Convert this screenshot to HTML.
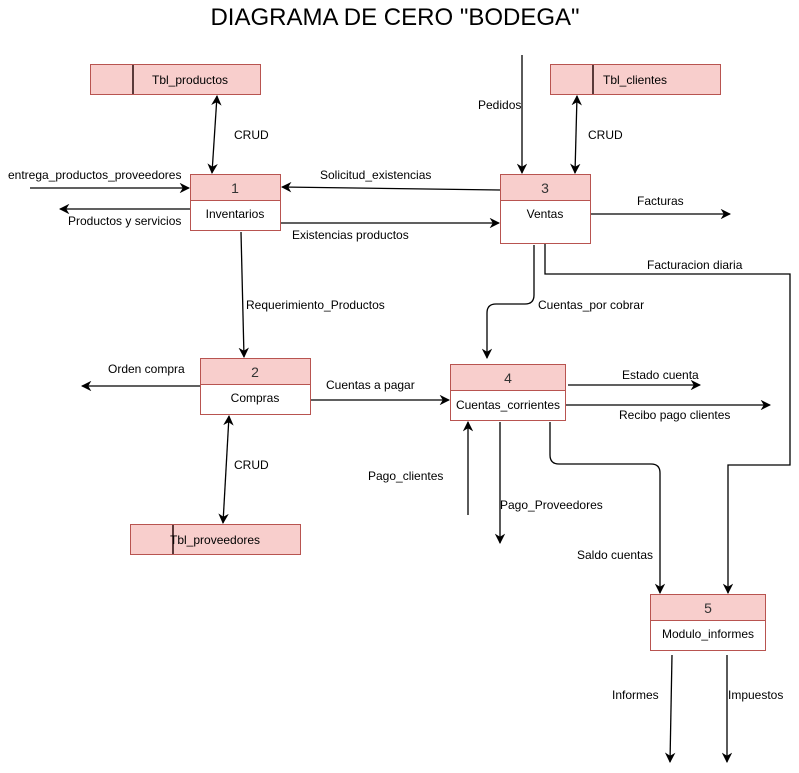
<!DOCTYPE html>
<html><head><meta charset="utf-8"><style>body{margin:0;background:#fff}svg{display:block;font-family:"Liberation Sans",sans-serif}</style></head>
<body>
<svg width="799" height="773" viewBox="0 0 799 773" xmlns="http://www.w3.org/2000/svg">
<defs><marker id="a" viewBox="0 0 10 10" refX="9" refY="5" markerWidth="8" markerHeight="8" orient="auto-start-reverse"><path d="M0,0 L10,5 L0,10 L3,5 z" fill="#000"/></marker></defs>
<text x="395" y="25" font-size="24" text-anchor="middle" fill="#000">DIAGRAMA DE CERO "BODEGA"</text>
<g fill="#f8cecc" stroke="#b85450" stroke-width="1">
<rect x="90.5" y="64.5" width="170" height="30"/><rect x="550.5" y="64.5" width="170" height="30"/><rect x="130.5" y="524.5" width="170" height="30"/>
</g>
<g stroke="#5a3a3a" stroke-width="2"><line x1="133" y1="65" x2="133" y2="94"/><line x1="593" y1="65" x2="593" y2="94"/><line x1="173" y1="525" x2="173" y2="554"/></g>
<g font-size="12" fill="#000">
<text x="152" y="84">Tbl_productos</text><text x="603" y="84">Tbl_clientes</text><text x="170" y="544">Tbl_proveedores</text>
</g>
<g stroke="#b85450" stroke-width="1">
<rect x="190.5" y="174.5" width="90" height="56" fill="#fff"/><rect x="190.5" y="174.5" width="90" height="26" fill="#f8cecc"/>
<rect x="500.5" y="174.5" width="90" height="69" fill="#fff"/><rect x="500.5" y="174.5" width="90" height="26" fill="#f8cecc"/>
<rect x="200.5" y="358.5" width="110" height="56" fill="#fff"/><rect x="200.5" y="358.5" width="110" height="26" fill="#f8cecc"/>
<rect x="450.5" y="364.5" width="115" height="56" fill="#fff"/><rect x="450.5" y="364.5" width="115" height="26" fill="#f8cecc"/>
<rect x="650.5" y="594.5" width="115" height="56" fill="#fff"/><rect x="650.5" y="594.5" width="115" height="26" fill="#f8cecc"/>
</g>
<g font-size="14" fill="#333" text-anchor="middle">
<text x="235" y="193">1</text><text x="545" y="193">3</text><text x="255" y="377">2</text><text x="508" y="383">4</text><text x="708" y="613">5</text>
</g>
<g font-size="12" fill="#000" text-anchor="middle">
<text x="235" y="218">Inventarios</text><text x="545" y="218">Ventas</text><text x="255" y="402">Compras</text><text x="508" y="409">Cuentas_corrientes</text><text x="708" y="638">Modulo_informes</text>
</g>
<g stroke="#000" stroke-width="1.3" fill="none" marker-end="url(#a)">
<line x1="217" y1="96" x2="212" y2="173" marker-start="url(#a)"/>
<line x1="30" y1="188" x2="189" y2="188"/>
<line x1="190" y1="209" x2="60" y2="209"/>
<line x1="500" y1="190" x2="282" y2="187"/>
<line x1="281" y1="223" x2="499" y2="223"/>
<line x1="522" y1="55" x2="522" y2="173"/>
<line x1="577" y1="96" x2="575" y2="173" marker-start="url(#a)"/>
<line x1="591" y1="214" x2="730" y2="214"/>
<path d="M545,244 V274 H790 V465 H728 V593"/>
<path d="M534,245 V295 Q534,304 525,304 H496 Q487,304 487,313 V358"/>
<line x1="241" y1="232" x2="244" y2="357"/>
<line x1="200" y1="386" x2="82" y2="386"/>
<line x1="311" y1="400" x2="449" y2="400"/>
<line x1="229" y1="416" x2="223" y2="523" marker-start="url(#a)"/>
<line x1="568" y1="385" x2="700" y2="385"/>
<line x1="566" y1="405" x2="770" y2="405"/>
<line x1="468" y1="515" x2="468" y2="422"/>
<line x1="500" y1="422" x2="500" y2="543"/>
<path d="M550,422 V455 Q550,464 559,464 H651 Q660,464 660,473 V593"/>
<line x1="672" y1="655" x2="670" y2="762"/>
<line x1="727" y1="655" x2="727" y2="762"/>
</g>
<g font-size="12" fill="#000">
<text x="234" y="139">CRUD</text><text x="8" y="179">entrega_productos_proveedores</text><text x="68" y="225">Productos y servicios</text>
<text x="320" y="179">Solicitud_existencias</text><text x="292" y="239">Existencias productos</text><text x="478" y="109">Pedidos</text>
<text x="588" y="139">CRUD</text><text x="637" y="205">Facturas</text><text x="647" y="269">Facturacion diaria</text>
<text x="538" y="309">Cuentas_por cobrar</text><text x="246" y="309">Requerimiento_Productos</text><text x="108" y="373">Orden compra</text>
<text x="326" y="389">Cuentas a pagar</text><text x="234" y="469">CRUD</text><text x="622" y="379">Estado cuenta</text>
<text x="619" y="419">Recibo pago clientes</text><text x="368" y="480">Pago_clientes</text><text x="500" y="509">Pago_Proveedores</text>
<text x="577" y="559">Saldo cuentas</text><text x="612" y="699">Informes</text><text x="728" y="699">Impuestos</text>
</g>
</svg>
</body></html>
